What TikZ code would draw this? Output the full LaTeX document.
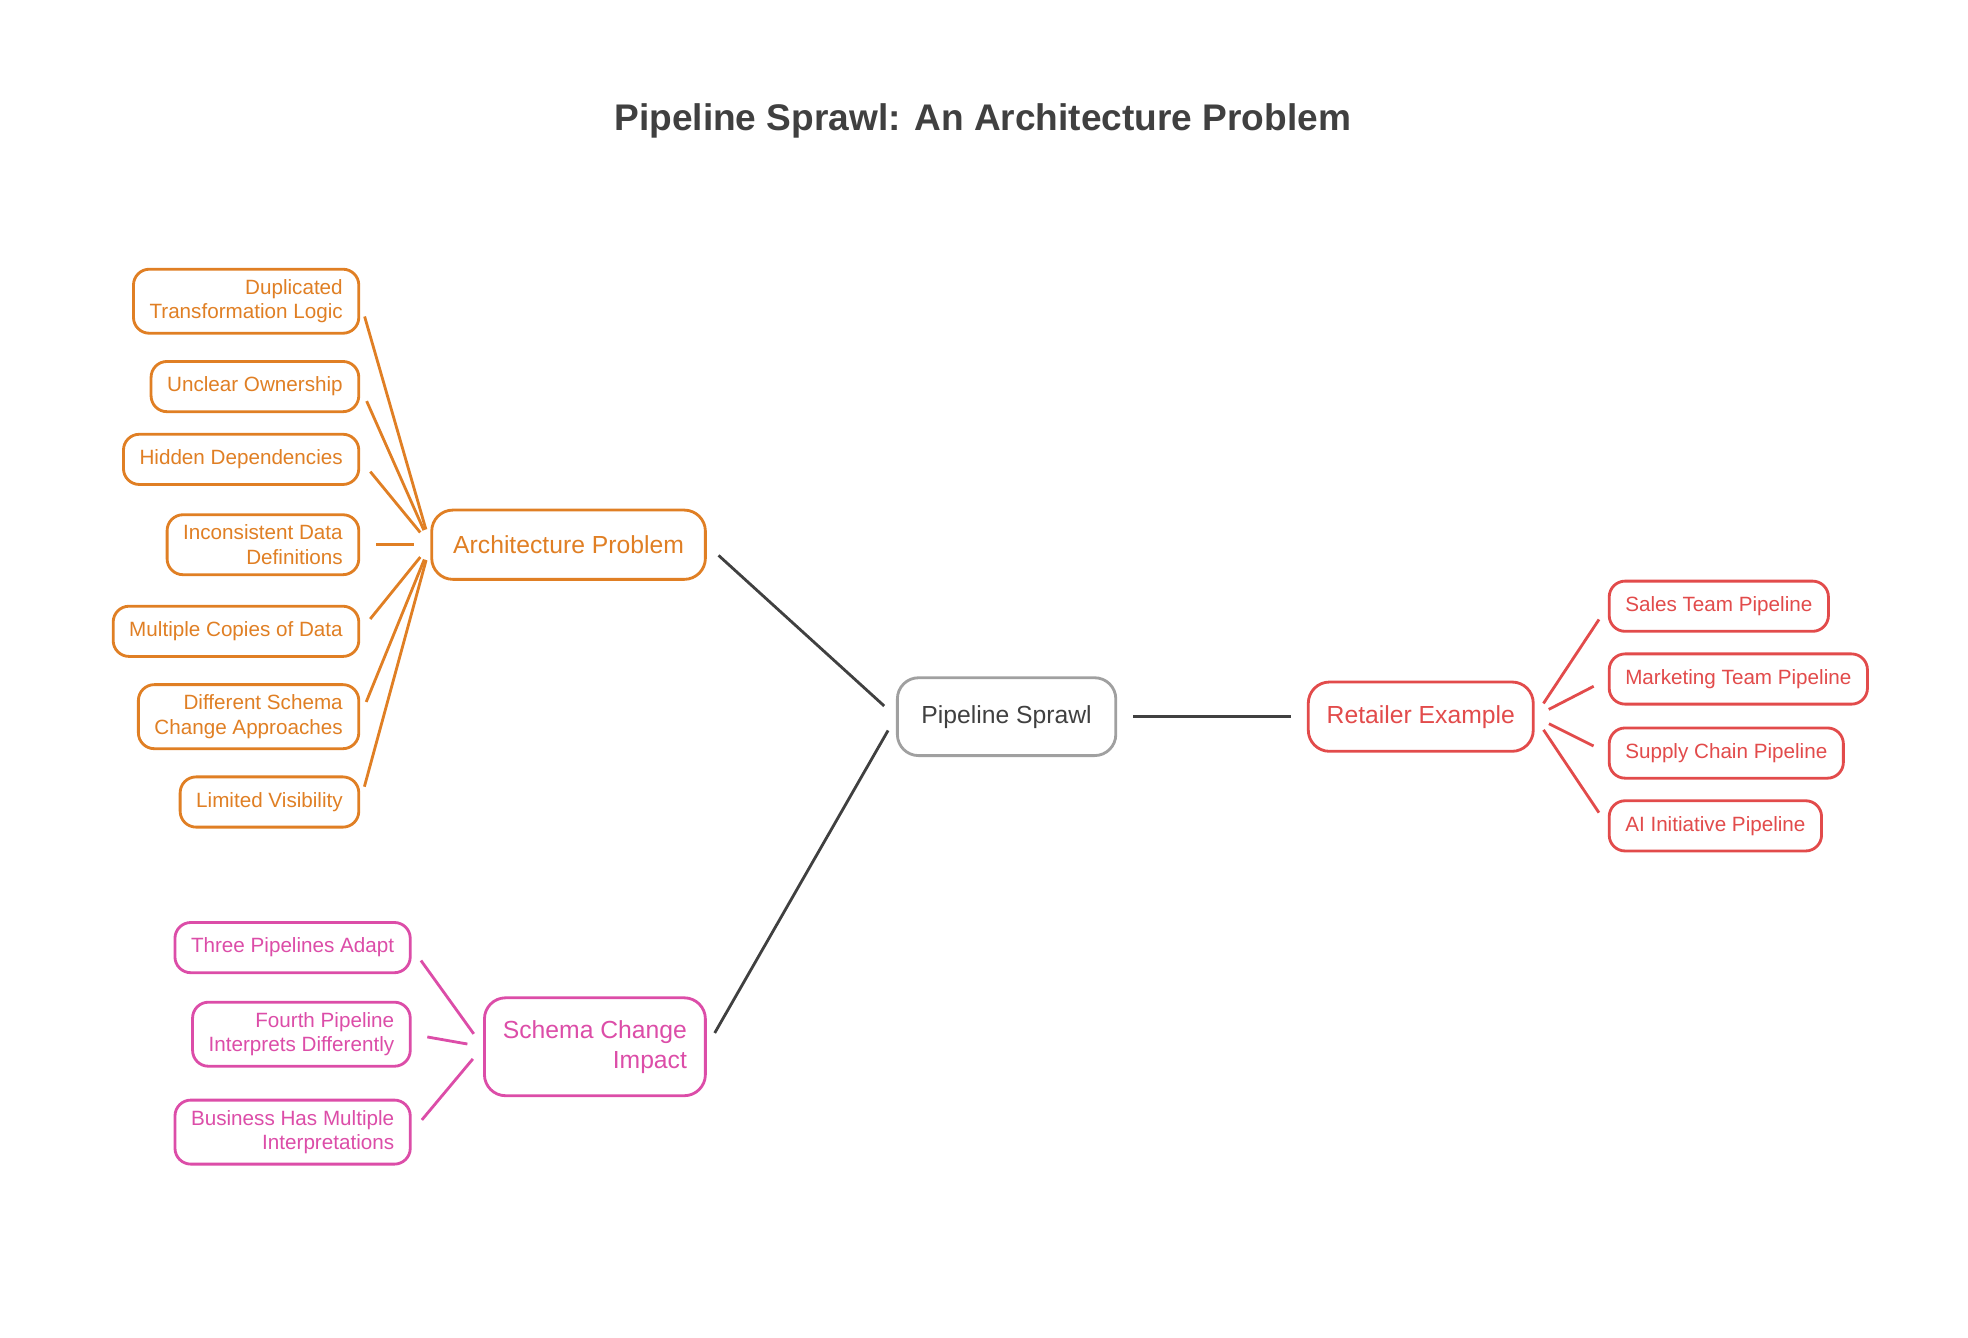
\documentclass[tikz,border=0pt]{standalone}
\usepackage{fontspec}
\setmainfont{Liberation Sans}
\usetikzlibrary{positioning,calc}
\definecolor{orng}{HTML}{E07F24}
\definecolor{redd}{HTML}{E24B4B}
\definecolor{pnk}{HTML}{DC4DA8}
\definecolor{gry}{HTML}{A0A0A0}
\definecolor{dark}{HTML}{404040}
\tikzset{
    box/.style={rectangle, rounded corners=9pt, line width=1.6pt, fill=white, inner xsep=0.32cm, inner ysep=0.2cm, minimum height=1cm, font=\fontsize{11.7}{14}\selectfont},
    mid/.style={box, rounded corners=12pt, minimum height=1.38cm, font=\fontsize{14}{17}\selectfont},
    leafo/.style={box, draw=orng, text=orng, align=right, anchor=east},
    leafp/.style={box, draw=pnk, text=pnk, align=right, anchor=east},
    leafr/.style={box, draw=redd, text=redd, align=left, anchor=west},
    link/.style={line width=1.6pt, shorten >=9pt, shorten <=9pt},
}
\begin{document}
\begin{tikzpicture}[x=0.025cm, y=-0.025cm]
        \useasboundingbox (0,0) rectangle (1568,1066);

        % Title
        \node[font=\fontsize{21}{25}\selectfont\bfseries, text=dark] (title) at (783,96) {Pipeline Sprawl: An Architecture Problem};

        % Main nodes
        \node[mid, draw=gry, text=dark, minimum width=4.35cm, minimum height=1.55cm] (sprawl) at (802,571) {Pipeline Sprawl};
        \node[mid, draw=orng, text=orng, minimum width=5.45cm] (arch) at (453,434) {Architecture Problem};
        \node[mid, draw=redd, text=redd, minimum width=4.48cm] (retail) at (1132,571) {Retailer Example};
        \node[mid, draw=pnk, text=pnk, align=right, minimum width=4.4cm, minimum height=1.95cm] (schema) at (474,834) {Schema Change\\Impact};

        % Architecture leaves
        \node[leafo] (dup) at (287,240) {Duplicated\\Transformation Logic};
        \node[leafo] (owner) at (287,308) {Unclear Ownership};
        \node[leafo] (hidden) at (287,366) {Hidden Dependencies};
        \node[leafo] (incons) at (287,434) {Inconsistent Data\\Definitions};
        \node[leafo] (copies) at (287,503) {Multiple Copies of Data};
        \node[leafo] (diff) at (287,571) {Different Schema\\Change Approaches};
        \node[leafo] (vis) at (287,639) {Limited Visibility};

        % Retailer leaves
        \node[leafr] (sales) at (1281,483) {Sales Team Pipeline};
        \node[leafr] (mkt) at (1281,541) {Marketing Team Pipeline};
        \node[leafr] (supply) at (1281,600) {Supply Chain Pipeline};
        \node[leafr] (ai) at (1281,658) {AI Initiative Pipeline};

        % Schema leaves
        \node[leafp] (three) at (328,755) {Three Pipelines Adapt};
        \node[leafp] (fourth) at (328,824) {Fourth Pipeline\\Interprets Differently};
        \node[leafp] (biz) at (328,902) {Business Has Multiple\\Interpretations};

        % Main links
        \draw[link, dark] (arch.east) -- (sprawl.west);
        \draw[link, dark] (sprawl) -- (retail);
        \draw[link, dark] (schema.east) -- (sprawl.west);

        % Leaf links
        \foreach \n in {dup,owner,hidden,incons,copies,diff,vis}
            \draw[link, orng] (\n.east) -- (arch.west);
        \foreach \n in {sales,mkt,supply,ai}
            \draw[link, redd] (retail.east) -- (\n.west);
        \foreach \n in {three,fourth,biz}
            \draw[link, pnk] (\n.east) -- (schema.west);
\end{tikzpicture}
\end{document}
